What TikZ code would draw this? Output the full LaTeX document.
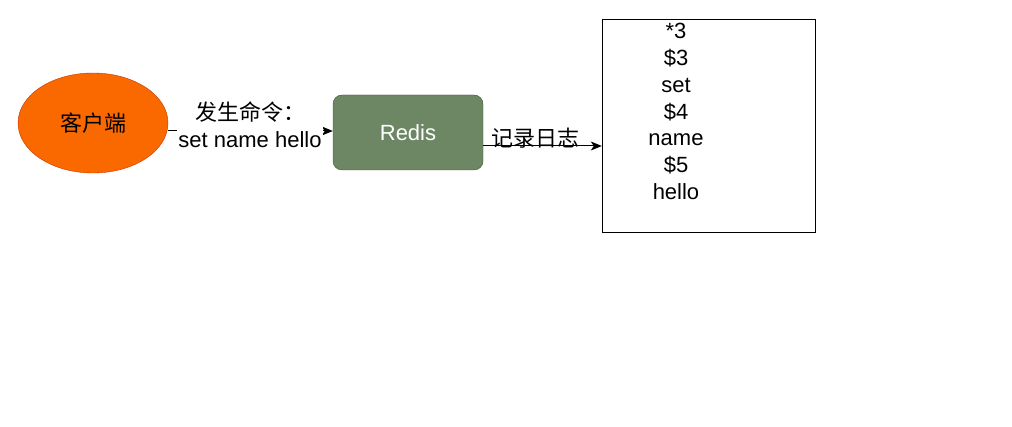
\documentclass[tikz,border=0pt]{standalone}
\usepackage{fontspec}
\setmainfont{Liberation Sans}
\newfontfamily\cjk{Noto Sans CJK SC}
\usetikzlibrary{arrows.meta,shapes.geometric}
\definecolor{clientfill}{HTML}{FA6800}
\definecolor{clientline}{HTML}{C73500}
\definecolor{redisfill}{HTML}{6D8764}
\definecolor{redisline}{HTML}{3A5431}
\begin{document}
\begin{tikzpicture}[x=1pt,y=-1pt,
  txt/.style={font=\fontsize{22}{26.8}\selectfont},
  clientnode/.style={ellipse,draw=clientline,fill=clientfill,minimum width=150pt,minimum height=100pt,inner sep=0pt,txt},
  redisnode/.style={rounded corners=9pt,draw=redisline,fill=redisfill,text=white,minimum width=150pt,minimum height=75pt,inner sep=0pt,txt},
  lognode/.style={draw=black,fill=white,minimum width=213pt,minimum height=213pt,inner sep=0pt},
  conn/.style={draw=black,line width=1pt,-{Stealth[length=11pt,width=9pt,inset=3pt]}},
  lbl/.style={txt,align=center,inner sep=1pt}]
\useasboundingbox (0,0) rectangle (1012,427);
\node[clientnode] (client) at (93,123) {\cjk 客户端};
\node[redisnode] (redis) at (408,132.5) {Redis};
\node[lognode] (log) at (708.5,125.5) {};
\node[lbl] (logtext) at (676,111.5) {*3\\\$3\\set\\\$4\\name\\\$5\\hello};
\coordinate (a1) at ([yshift=1.5pt]client.east |- redis.west);
\draw[conn] (a1) -- (a1 -| redis.west);
\node[lbl,fill=white] (l1) at (250,125) {{\cjk 发生命令：}\\set name hello};
\coordinate (a2) at ([yshift=-13.5pt]redis.east);
\draw[conn] (a2) -- (a2 -| log.west);
\node[lbl] (l2) at (535,138.5) {\cjk 记录日志};
\end{tikzpicture}
\end{document}
